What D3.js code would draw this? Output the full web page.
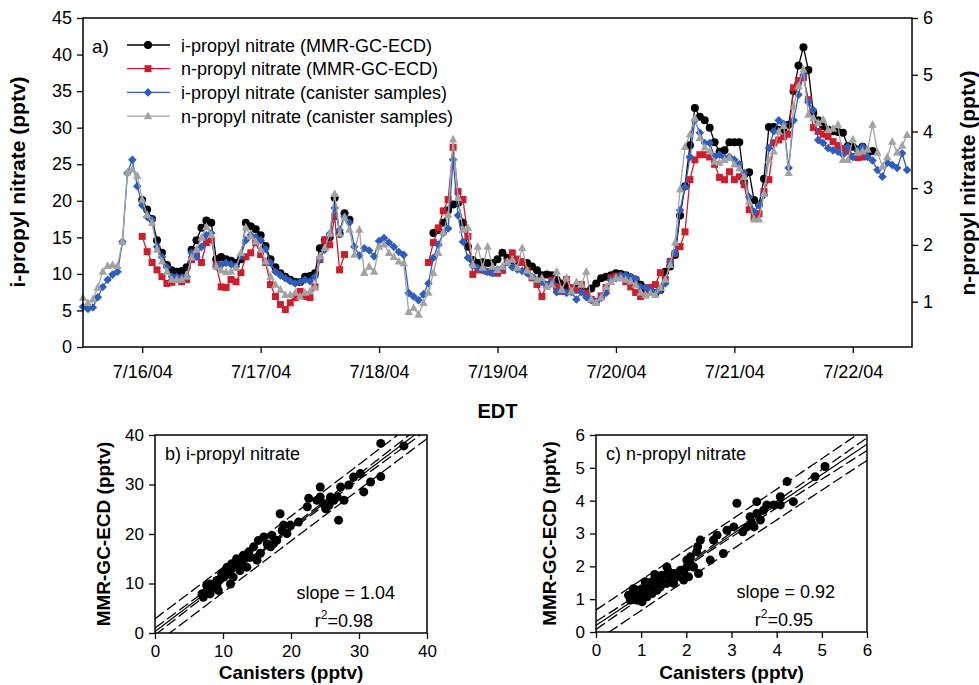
<!DOCTYPE html>
<html>
<head>
<meta charset="utf-8">
<script src="https://cdn.jsdelivr.net/npm/d3@7"></script>
<style>
body { margin: 0; background: #fff; }
text { font-family: "Liberation Sans", Arial, Helvetica, sans-serif; }
</style>
</head>
<body>
<svg id="chart" width="979" height="685"></svg>
<script>
// hourly samples, starting 7/15/04 12:00 EDT
const startTime = new Date(2004, 6, 15, 12);
const dayTicks = ["7/16/04", "7/17/04", "7/18/04", "7/19/04", "7/20/04", "7/21/04", "7/22/04"];

// i-propyl nitrate, MMR-GC-ECD (pptv, left axis)
const ipnGC = [
  null, null, null, null, null, null, null, null, null, null, null, null,
  20.1, 18.8, 17.5, 14.6, 12.9, 11.2, 10.5, 10.3, 10.4, 10.9, 13.3, 14.6, 16.3, 17.3, 17.0, 12.0,
  12.3, 12.0, 11.8, 11.5, 12.0, 17.0, 16.5, 16.1, 15.3, 13.8, 12.0, 10.9, 10.1, 9.6, 9.2, 8.9,
  8.9, 9.6, 9.7, 10.1, 13.5, 14.6, 15.0, 20.4, 15.5, 18.3, 17.4,
  null, null, null, null, null, null, null, null, null, null, null, null, null, null, null, null,
  15.6, 16.0, 17.0, 18.7, 19.5, 19.7, 17.0, 13.7, 11.9, 11.5, 11.6, 11.5, 11.5,
  12.0, 12.9, 12.2, 11.8, 11.6, 11.6, 11.5, 11.0, 10.5, 9.8, 9.9, 9.8, 9.2, 8.7,
  8.3, 8.0, 8.2, 8.0, 7.5, 8.0, 8.7, 9.4, 9.6, 9.8, 10.1, 10.0, 9.8, 9.5,
  9.2, 8.5, 8.0, 7.6, 7.4, 7.8, 10.3, 11.0, 12.6, 18.0, 22.0, 27.6, 32.7, 31.5,
  31.0, 30.0, 28.0, 26.7, 26.9, 28.0, 28.0, 28.0, 22.5, 23.9, 20.1, 19.5, 23.0, 30.1,
  30.1, 29.7, 29.5, 30.4, 35.0, 38.5, 41.0, 37.9, 32.0, 31.0, 30.2, 29.7, 29.5, 29.4,
  29.3, 27.5, 27.4, 27.0, 27.4, 26.5, 26.8,
  null, null, null, null, null, null, null
];

// n-propyl nitrate, MMR-GC-ECD (pptv, right axis)
const npnGC = [
  null, null, null, null, null, null, null, null, null, null, null, null,
  2.15, 1.88, 1.69, 1.56, 1.44, 1.32, 1.34, 1.39, 1.35, 1.39, 1.74, 1.81, 1.69, 2.04, 2.09, 1.65,
  1.26, 1.25, 1.39, 1.35, 1.51, 1.79, 1.86, 2.04, 1.83, 1.69, 1.30, 1.09, 0.95, 0.86, 0.98, 1.07,
  1.18, 1.09, 1.07, 1.26, 1.74, 2.09, 2.00, 2.50, 1.56, 1.83,
  null, null, null, null, null, null, null, null, null, null, null, null, null, null, null, null,
  1.69, 2.04, 2.30, 2.60, 2.80, 3.72, 2.94, 2.80, 2.15, 1.48, 1.56, 1.56, 1.53, 1.51,
  1.50, 1.55, 1.70, 1.86, 1.75, 1.69, 1.55, 1.42, 1.30, 1.09, 1.30, 1.38, 1.25, 1.18,
  1.39, 1.25, 1.20, 1.30, 1.15, 1.04, 1.00, 1.10, 1.25, 1.42, 1.45, 1.42, 1.35, 1.26,
  1.16, 1.09, 1.12, 1.25, 1.30, 1.51, 1.39, 1.71, 1.85, 1.97, 2.23, 3.15, 3.50, 3.59,
  3.59, 3.55, 3.42, 3.19, 3.15, 3.29, 3.15, 3.20, 3.06, 2.62, 2.48, 2.55, 2.94, 3.15,
  3.80, 3.85, 3.91, 3.95, 4.77, 4.90, 4.95, 4.56, 4.07, 4.00, 3.95, 3.91, 3.82, 3.75,
  3.70, 3.65, 3.56, 3.54, 3.55,
  null, null, null, null, null, null, null, null, null
];

// i-propyl nitrate, canister samples (pptv, left axis)
const ipnCan = [
  5.5, 5.2, 5.4, 6.8, 8.2, 9.2, 9.9, 10.3, 14.4, 23.8, 25.6, 22.0, 19.4, 17.8,
  17.4, 13.7, 12.3, 10.9, 9.6, 9.6, 9.5, 9.6, 12.9, 12.3, 13.7, 15.3, 15.6, 11.0,
  11.2, 11.5, 11.3, 11.0, 12.5, 14.6, 15.3, 15.0, 14.6, 13.4, 11.5, 10.3, 9.8, 9.4,
  9.0, 8.7, 8.9, 9.2, 9.0, 9.6, 12.0, 13.3, 15.5, 19.0, 16.0, 17.8, 17.0, 13.7,
  12.5, 13.5, 13.2, 12.4, 14.5, 14.9, 14.3, 13.7, 13.0, 12.6, 7.4, 6.9, 6.4, 7.2,
  8.7, 12.2, 14.0, 15.6, 16.2, 25.6, 18.0, 14.4, 12.2, 11.2, 10.8, 10.5, 10.3, 10.1,
  10.6, 10.8, 11.6, 10.9, 10.6, 10.4, 10.1, 9.6, 9.2, 8.9, 8.5, 8.9, 7.5, 7.8,
  7.4, 7.5, 6.5, 7.5, 6.8, 6.4, 6.2, 6.7, 7.4, 9.2, 9.4, 9.8, 9.8, 9.6,
  9.3, 8.2, 8.1, 7.8, 7.4, 7.8, 8.7, 11.6, 12.9, 18.7, 21.9, 26.0, 31.0, 29.3,
  27.9, 27.9, 26.0, 26.3, 25.9, 26.0, 25.6, 25.0, 23.8, 20.5, 18.5, 19.4, 20.8, 27.2,
  29.5, 31.0, 30.5, 24.5, 31.0, 34.5, 37.2, 33.5, 32.4, 28.3, 27.9, 27.2, 26.9, 26.7,
  26.3, 27.4, 26.0, 26.9, 27.4, 26.0, 25.5, 24.2, 23.3, 25.2, 24.9, 24.5, 26.5, 24.2
];

// n-propyl nitrate, canister samples (pptv, right axis)
const npnCan = [
  1.07, 0.98, 1.04, 1.25, 1.53, 1.63, 1.65, 1.63, 2.06, 3.28, 3.33, 3.22, 2.80, 2.53,
  2.39, 1.92, 1.71, 1.53, 1.39, 1.39, 1.39, 1.44, 1.78, 1.92, 2.13, 2.32, 2.18, 1.62,
  1.55, 1.52, 1.53, 1.60, 1.86, 2.31, 2.15, 2.06, 1.92, 1.71, 1.44, 1.30, 1.21, 1.12,
  1.12, 1.16, 1.09, 1.16, 1.18, 1.26, 1.80, 1.95, 2.20, 2.90, 2.20, 2.48, 2.27, 1.83,
  2.27, 1.51, 1.62, 1.53, 1.97, 2.01, 1.86, 1.79, 1.71, 1.68, 0.82, 0.89, 0.77, 0.98,
  1.16, 1.51, 1.86, 2.22, 2.53, 3.86, 2.83, 2.27, 2.30, 1.65, 1.97, 1.60, 1.97, 1.62,
  1.56, 1.62, 1.70, 1.74, 1.60, 1.95, 1.55, 1.44, 1.39, 1.42, 1.26, 1.30, 1.53, 1.21,
  1.42, 1.18, 1.35, 1.30, 1.53, 1.04, 0.98, 1.07, 1.26, 1.35, 1.42, 1.42, 1.39, 1.36,
  1.30, 1.16, 1.12, 1.15, 1.12, 1.25, 1.39, 1.65, 2.04, 2.98, 3.73, 3.95, 4.24, 3.89,
  3.72, 3.65, 3.47, 3.45, 3.50, 3.54, 3.42, 3.35, 3.20, 2.76, 2.45, 2.45, 2.90, 3.50,
  3.65, 4.00, 4.10, 3.27, 4.44, 4.80, 5.09, 4.30, 4.24, 4.15, 4.21, 4.03, 4.05, 4.12,
  3.50, 3.50, 3.86, 3.63, 3.65, 3.68, 4.12, 3.63, 3.38, 3.55, 3.82, 3.63, 3.75, 3.94
];

const leftTicks = [0, 5, 10, 15, 20, 25, 30, 35, 40, 45];
const rightTicks = [1, 2, 3, 4, 5, 6];

// scatter b) i-propyl: canister vs MMR-GC-ECD
const ipnScatterCan = [22.6, 24.3, 24.3, 24.8, 25.1, 25.8, 26.8, 27.0, 27.3, 27.8, 28.5, 29.2, 30.2, 30.7,
  31.7, 33.2, 33.2, 36.6, 22.4, 25.6, 26.3, 23.8, 18.4, 18.9, 19.4, 21.1, 18.7, 17.2, 16.0, 16.5,
  15.2, 14.5, 13.8, 14.0, 13.0, 12.8, 12.0, 12.0, 11.3, 11.1, 10.6, 10.3, 9.8, 10.1, 9.6, 9.1,
  8.8, 8.4, 7.9, 7.4, 6.9, 7.1, 8.1, 9.3, 9.1, 11.1, 11.5, 12.5, 13.5, 15.0, 15.5, 17.0, 17.9,
  17.4, 19.9, 13.5, 12.3, 10.8, 8.1, 7.6];
const ipnScatterGC = [27.2, 29.5, 27.5, 26.1, 25.1, 27.5, 27.5, 22.8, 29.5, 26.8, 29.9, 31.5, 32.2, 28.5,
  30.5, 31.6, 38.3, 37.8, 25.5, 25.8, 26.8, 26.8, 24.1, 21.8, 20.1, 22.4, 20.7, 19.7, 19.4, 18.0,
  18.7, 17.4, 16.4, 15.3, 15.7, 14.7, 13.6, 15.0, 14.0, 13.0, 13.3, 12.3, 12.0, 11.3, 10.9, 10.6,
  9.9, 9.3, 8.9, 8.2, 7.9, 7.2, 7.9, 8.6, 9.6, 9.9, 11.3, 12.6, 13.3, 14.7, 16.1, 17.4, 18.7,
  18.0, 21.8, 15.6, 14.3, 12.0, 9.9, 9.6];

// scatter c) n-propyl: canister vs MMR-GC-ECD
const npnScatterCan = [4.85, 5.07, 4.23, 4.08, 4.37, 4.08, 3.93, 3.78, 3.56, 3.71, 3.56, 3.41, 3.45, 3.34,
  3.64, 3.12, 3.05, 2.90, 2.82, 2.68, 2.60, 2.53, 2.31, 2.23, 2.27, 2.09, 2.01, 2.01, 1.94, 1.94,
  1.79, 1.72, 1.64, 1.57, 1.57, 1.46, 1.39, 1.35, 1.28, 1.20, 1.13, 1.09, 1.02, 0.98, 0.91, 0.87,
  0.80, 0.76, 0.91, 1.02, 1.13, 1.24, 1.35, 1.50, 1.72, 1.87, 2.16, 2.05, 0.72, 0.83, 1.05, 1.42,
  3.25, 3.50, 1.15, 1.30, 1.60, 2.10, 2.25];
const npnScatterGC = [4.73, 5.04, 4.58, 4.12, 3.97, 3.87, 3.87, 3.87, 3.97, 3.71, 3.61, 3.51, 3.31, 3.20,
  3.41, 3.92, 3.20, 3.10, 2.39, 2.95, 2.80, 2.19, 2.80, 2.44, 1.78, 2.29, 2.19, 1.98, 1.83, 1.58,
  1.68, 1.78, 1.63, 1.98, 1.48, 1.73, 1.48, 1.68, 1.58, 1.42, 1.37, 1.53, 1.32, 1.17, 1.27, 1.12,
  1.17, 0.97, 0.97, 0.92, 1.07, 1.17, 1.27, 1.48, 1.48, 1.88, 1.98, 1.68, 1.12, 1.32, 1.22, 1.37,
  3.05, 3.20, 1.50, 1.75, 1.85, 2.05, 2.60];

// fit line and the 95% prediction half-width
const ipnFit = { slope: 1.04, intercept: 0.3, predHalf: 2.5, r2: "0.98" };
const npnFit = { slope: 0.92, intercept: 0.2, predHalf: 0.46, r2: "0.95" };

const svg = d3.select("#chart");
const font = "\"Liberation Sans\", Arial, sans-serif";

// ---------- panel a ----------
const panelA = { left: 83, right: 912, top: 18, bottom: 347 };

const x = d3.scaleTime()
    .domain([startTime, d3.timeHour.offset(startTime, 168)])
    .range([panelA.left, panelA.right]);
const yL = d3.scaleLinear().domain([0, 45]).range([panelA.bottom, panelA.top]);
const yR = d3.scaleLinear().domain([0.2, 6]).range([panelA.bottom, panelA.top]);

const series = [
    { name: "i-propyl nitrate (MMR-GC-ECD)", values: ipnGC, y: yL, color: "#000000", shape: "circle" },
    { name: "n-propyl nitrate (MMR-GC-ECD)", values: npnGC, y: yR, color: "#cc1f2d", shape: "square" },
    { name: "i-propyl nitrate (canister samples)", values: ipnCan, y: yL, color: "#2f5dbd", shape: "diamond" },
    { name: "n-propyl nitrate (canister samples)", values: npnCan, y: yR, color: "#a3a3a3", shape: "triangle" }
];

function marker(g, shape, color) {
    if (shape === "circle")
        return g.append("circle").attr("r", 4).attr("fill", color);
    if (shape === "square")
        return g.append("rect").attr("x", -3.5).attr("y", -3.5).attr("width", 7).attr("height", 7).attr("fill", color);
    if (shape === "diamond")
        return g.append("path").attr("d", "M0,-4.3L4.3,0L0,4.3L-4.3,0Z").attr("fill", color);
    return g.append("path").attr("d", "M0,-4.6L4.2,3.2L-4.2,3.2Z").attr("fill", color);
}

const plotA = svg.append("g");

series.forEach(function(s) {
    let pts = s.values.map(function(v, i) {
        return { t: d3.timeHour.offset(startTime, i), v: v };
    });
    let line = d3.line()
        .defined(function(d) { return d.v !== null; })
        .x(function(d) { return x(d.t); })
        .y(function(d) { return s.y(d.v); });
    let g = plotA.append("g");
    g.append("path")
        .attr("d", line(pts))
        .attr("fill", "none")
        .attr("stroke", s.color)
        .attr("stroke-width", 1.3);
    pts.filter(function(d) { return d.v !== null; }).forEach(function(d) {
        let m = g.append("g").attr("transform", "translate(" + x(d.t) + "," + s.y(d.v) + ")");
        marker(m, s.shape, s.color);
    });
});

// frame
plotA.append("rect")
    .attr("x", panelA.left).attr("y", panelA.top)
    .attr("width", panelA.right - panelA.left).attr("height", panelA.bottom - panelA.top)
    .attr("fill", "none").attr("stroke", "#000").attr("stroke-width", 1.5);

function styleAxis(g, size) {
    g.select(".domain").remove();
    g.selectAll(".tick line").attr("stroke", "#000").attr("stroke-width", 1.3);
    g.selectAll(".tick text").attr("font-size", size).attr("font-family", font).attr("fill", "#000");
}

const dayFormat = d3.timeFormat("%-m/%-d/%y");
svg.append("g")
    .attr("transform", "translate(0," + panelA.bottom + ")")
    .call(d3.axisBottom(x)
        .tickValues(dayTicks.map(function(d) { return d3.timeParse("%m/%d/%y")(d); }))
        .tickFormat(dayFormat)
        .tickSize(6).tickPadding(12))
    .call(function(g) { styleAxis(g, 18); });

svg.append("g")
    .attr("transform", "translate(" + panelA.left + ",0)")
    .call(d3.axisLeft(yL).tickValues(leftTicks).tickSize(6).tickPadding(5))
    .call(function(g) { styleAxis(g, 18); });

svg.append("g")
    .attr("transform", "translate(" + panelA.right + ",0)")
    .call(d3.axisRight(yR).tickValues(rightTicks).tickFormat(d3.format("d")).tickSize(6).tickPadding(5))
    .call(function(g) { styleAxis(g, 18); });

svg.append("text")
    .attr("transform", "translate(25,182) rotate(-90)")
    .attr("text-anchor", "middle").attr("font-size", 21).attr("font-weight", "bold")
    .text("i-propyl nitrate (pptv)");

svg.append("text")
    .attr("transform", "translate(975,183) rotate(-90)")
    .attr("text-anchor", "middle").attr("font-size", 21).attr("font-weight", "bold")
    .text("n-propyl nitratte (pptv)");

svg.append("text")
    .attr("x", (panelA.left + panelA.right) / 2).attr("y", 418)
    .attr("text-anchor", "middle").attr("font-size", 20).attr("font-weight", "bold")
    .text("EDT");

// legend
svg.append("text").attr("x", 92).attr("y", 53).attr("font-size", 19).text("a)");
series.forEach(function(s, i) {
    let ly = 45 + i * 23.7;
    let g = svg.append("g");
    g.append("line").attr("x1", 127).attr("x2", 170).attr("y1", ly).attr("y2", ly)
        .attr("stroke", s.color).attr("stroke-width", 1.3);
    let m = g.append("g").attr("transform", "translate(148," + ly + ")");
    marker(m, s.shape, s.color);
    g.append("text").attr("x", 181).attr("y", ly + 6.5).attr("font-size", 18).text(s.name);
});

// ---------- panels b and c ----------
function fitBands(xs, fit) {
    let n = xs.length;
    let xm = d3.mean(xs);
    let sxx = d3.sum(xs, function(v) { return (v - xm) * (v - xm); });
    // spread implied by the prediction band width at the mean
    let ts = fit.predHalf / Math.sqrt(1 + 1 / n);
    return {
        ci: function(v) { return ts * Math.sqrt(1 / n + (v - xm) * (v - xm) / sxx); },
        pi: function(v) { return ts * Math.sqrt(1 + 1 / n + (v - xm) * (v - xm) / sxx); }
    };
}

function scatterPanel(opts) {
    let sx = d3.scaleLinear().domain([0, opts.max]).range([opts.left, opts.right]);
    let sy = d3.scaleLinear().domain([0, opts.max]).range([opts.bottom, opts.top]);
    let g = svg.append("g");
    let clipId = "clip-" + opts.id;
    g.append("clipPath").attr("id", clipId).append("rect")
        .attr("x", opts.left).attr("y", opts.top)
        .attr("width", opts.right - opts.left).attr("height", opts.bottom - opts.top);

    let bands = fitBands(opts.xs, opts.fit);
    let step = opts.max / 100;
    let grid = d3.range(0, opts.max + step / 2, step);
    let lineGen = function(off) {
        return d3.line()
            .x(function(v) { return sx(v); })
            .y(function(v) { return sy(opts.fit.intercept + opts.fit.slope * v + off(v)); })(grid);
    };
    let lines = g.append("g").attr("clip-path", "url(#" + clipId + ")");
    lines.append("path").attr("d", lineGen(function() { return 0; }))
        .attr("fill", "none").attr("stroke", "#000").attr("stroke-width", 1.2);
    [function(v) { return bands.ci(v); }, function(v) { return -bands.ci(v); },
     function(v) { return bands.pi(v); }, function(v) { return -bands.pi(v); }].forEach(function(f) {
        lines.append("path").attr("d", lineGen(f))
            .attr("fill", "none").attr("stroke", "#000").attr("stroke-width", 1.3)
            .attr("stroke-dasharray", "11,4");
    });

    g.append("g").attr("clip-path", "url(#" + clipId + ")")
        .selectAll("circle")
        .data(opts.xs)
        .enter().append("circle")
        .attr("cx", function(d) { return sx(d); })
        .attr("cy", function(d, i) { return sy(opts.ys[i]); })
        .attr("r", 4.5)
        .attr("fill", "#000");

    g.append("rect")
        .attr("x", opts.left).attr("y", opts.top)
        .attr("width", opts.right - opts.left).attr("height", opts.bottom - opts.top)
        .attr("fill", "none").attr("stroke", "#000").attr("stroke-width", 1.5);

    g.append("g").attr("transform", "translate(0," + opts.bottom + ")")
        .call(d3.axisBottom(sx).tickValues(opts.ticks).tickFormat(d3.format("d")).tickSize(6).tickPadding(6))
        .call(function(a) { styleAxis(a, 17); });
    g.append("g").attr("transform", "translate(" + opts.left + ",0)")
        .call(d3.axisLeft(sy).tickValues(opts.ticks).tickFormat(d3.format("d")).tickSize(6).tickPadding(5))
        .call(function(a) { styleAxis(a, 17); });

    g.append("text")
        .attr("x", (opts.left + opts.right) / 2).attr("y", 679)
        .attr("text-anchor", "middle").attr("font-size", 19).attr("font-weight", "bold")
        .text("Canisters (pptv)");
    g.append("text")
        .attr("transform", "translate(" + opts.ylabelX + "," + (opts.top + opts.bottom) / 2 + ") rotate(-90)")
        .attr("text-anchor", "middle").attr("font-size", 19).attr("font-weight", "bold")
        .text("MMR-GC-ECD (pptv)");

    g.append("text").attr("x", opts.left + 10).attr("y", opts.top + 25)
        .attr("font-size", 18).text(opts.title);
    g.append("text").attr("x", opts.right - 32).attr("y", opts.bottom - 34)
        .attr("text-anchor", "end").attr("font-size", 18)
        .text("slope = " + opts.fit.slope.toFixed(2));
    let r2 = g.append("text").attr("x", opts.right - 54).attr("y", opts.bottom - 6)
        .attr("text-anchor", "end").attr("font-size", 18);
    r2.append("tspan").text("r");
    r2.append("tspan").attr("font-size", 12).attr("dy", -8).text("2");
    r2.append("tspan").attr("dy", 8).text("=" + opts.fit.r2);
}

scatterPanel({
    id: "b", left: 155, right: 427, top: 435, bottom: 633, max: 40,
    ticks: [0, 10, 20, 30, 40], xs: ipnScatterCan, ys: ipnScatterGC, fit: ipnFit,
    title: "b) i-propyl nitrate", ylabelX: 110
});

scatterPanel({
    id: "c", left: 596, right: 867, top: 435, bottom: 632, max: 6,
    ticks: [0, 1, 2, 3, 4, 5, 6], xs: npnScatterCan, ys: npnScatterGC, fit: npnFit,
    title: "c) n-propyl nitrate", ylabelX: 556
});
</script>
</body>
</html>
